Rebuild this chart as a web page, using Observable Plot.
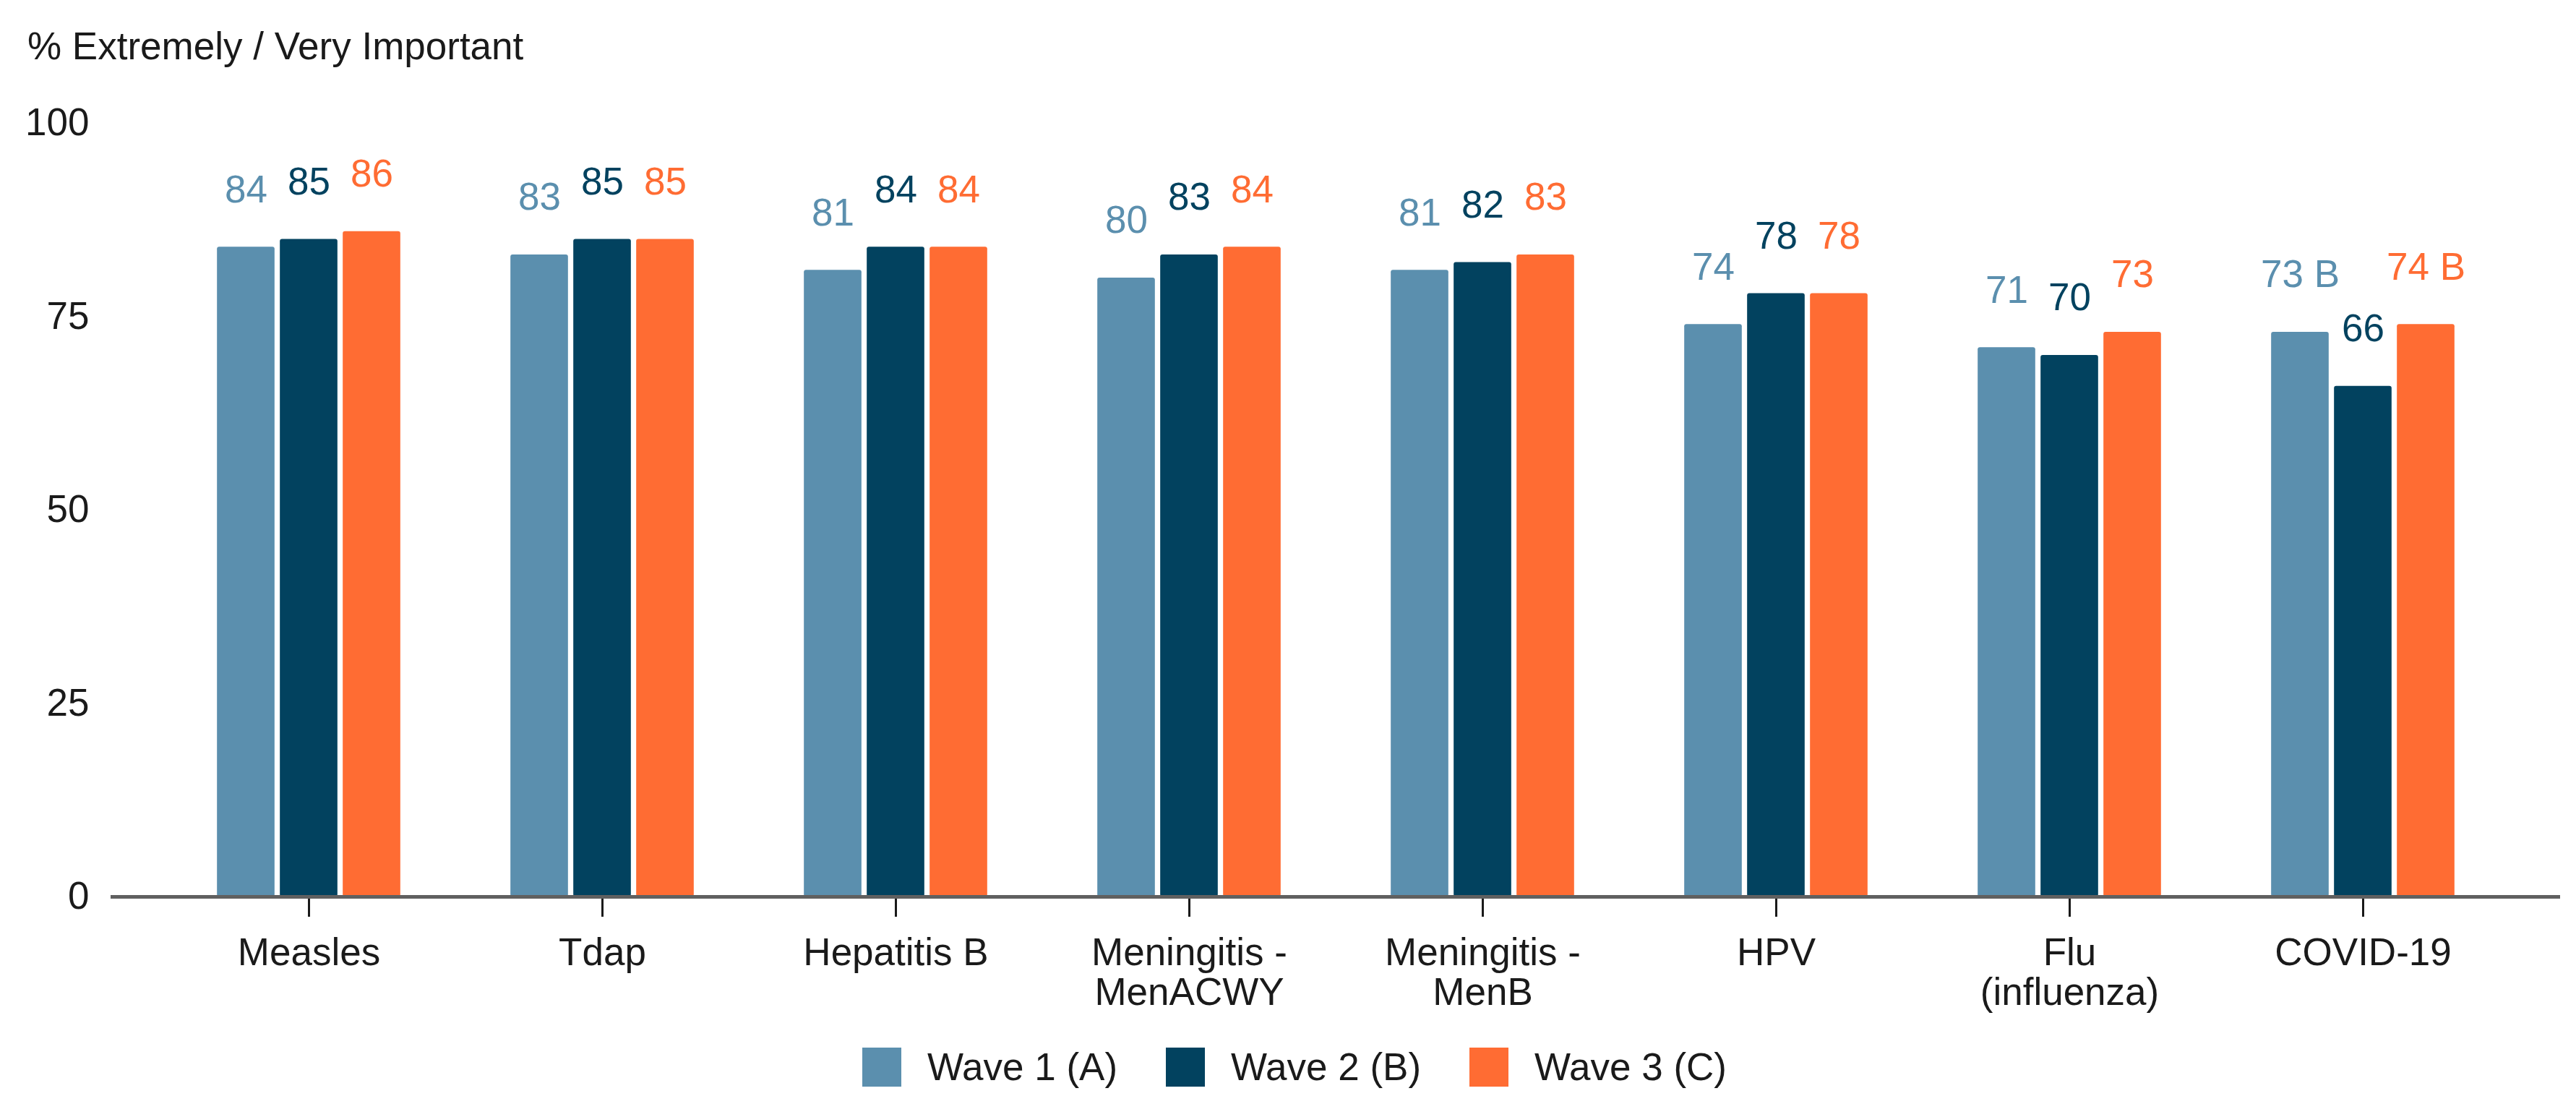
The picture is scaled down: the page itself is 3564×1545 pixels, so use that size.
<!DOCTYPE html>
<html>
<head>
<meta charset="utf-8">
<script src="https://cdn.jsdelivr.net/npm/d3@7"></script>
<script src="https://cdn.jsdelivr.net/npm/@observablehq/plot@0.6"></script>
<style>
  html, body { margin: 0; padding: 0; background: #fff; }
  body { width: 3564px; height: 1545px; overflow: hidden; position: relative;
         font-family: "Liberation Sans", Arial, Helvetica, sans-serif; color: #1a1a1a; }
  #title { position: absolute; left: 38px; top: 37px; font-size: 53px; line-height: 53px; white-space: nowrap; }
  #chart { position: absolute; left: 0; top: 110px; }
  #legend { position: absolute; left: 1193px; top: 1449px; height: 54px; display: flex; align-items: center; }
  .item { display: flex; align-items: center; width: 420px; font-size: 53px; line-height: 54px; white-space: nowrap; }
  .sw { width: 54px; height: 54px; margin-right: 36px; flex: none; }
</style>
</head>
<body>
<div id="title"></div>
<div id="chart"></div>
<div id="legend"></div>
<script>
// ---- data ----
const categories = ["Measles", "Tdap", "Hepatitis B", "Meningitis - MenACWY", "Meningitis - MenB", "HPV", "Flu (influenza)", "COVID-19"];
const tickLabels = ["Measles", "Tdap", "Hepatitis B", "Meningitis -\nMenACWY", "Meningitis -\nMenB", "HPV", "Flu\n(influenza)", "COVID-19"];
const waves = ["Wave 1 (A)", "Wave 2 (B)", "Wave 3 (C)"];
const wave1 = [84, 83, 81, 80, 81, 74, 71, 73];
const wave2 = [85, 85, 84, 83, 82, 78, 70, 66];
const wave3 = [86, 85, 84, 84, 83, 78, 73, 74];
const wave1Sig = ["", "", "", "", "", "", "", "B"];
const wave2Sig = ["", "", "", "", "", "", "", ""];
const wave3Sig = ["", "", "", "", "", "", "", "B"];
const yTicks = [0, 25, 50, 75, 100];
const titleText = "% Extremely / Very Important";
const colors = ["#5b8fae", "#02425f", "#ff6c33"];

// ---- build table ----
const series = [wave1, wave2, wave3];
const sigs = [wave1Sig, wave2Sig, wave3Sig];
const data = [];
waves.forEach((w, wi) => categories.forEach((c, ci) => {
  const v = series[wi][ci];
  data.push({category: c, wave: w, value: v, label: sigs[wi][ci] ? `${v} ${sigs[wi][ci]}` : `${v}`});
}));

// ---- layout ----
const width = 3564, height = 1310;
const marginLeft = 153, marginRight = 22, marginTop = 60, marginBottom = 180;
const paddingOuter = 0.17;
const bandwidth = (width - marginLeft - marginRight) / (categories.length + 2 * paddingOuter);
const barWidth = 80, barPitch = 87;
const inset = (bandwidth - barWidth) / 2;
const font = "'Liberation Sans', Arial, Helvetica, sans-serif";

const marks = [];
waves.forEach((w, wi) => {
  const rows = data.filter(d => d.wave === w);
  marks.push(Plot.barY(rows, {
    x: "category", y: "value", fill: colors[wi],
    insetLeft: inset, insetRight: inset, dx: (wi - 1) * barPitch, rx: 3
  }));
});
waves.forEach((w, wi) => {
  const rows = data.filter(d => d.wave === w);
  marks.push(Plot.text(rows, {
    x: "category", y: "value", text: "label", fill: colors[wi],
    dx: (wi - 1) * barPitch, dy: -79, fontSize: 53
  }));
});

const chart = Plot.plot({
  width, height, marginLeft, marginRight, marginTop, marginBottom,
  style: {fontSize: "53px", fontFamily: font, color: "#1a1a1a", background: "white"},
  x: {type: "band", domain: categories, paddingInner: 0, paddingOuter},
  y: {domain: [0, 100]},
  marks: [
    ...marks,
    Plot.axisY({ticks: yTicks, tickSize: 0, tickPadding: 30, label: null, fontSize: 53}),
    Plot.axisX({
      tickSize: 28, tickPadding: 27, label: null, fontSize: 53, lineHeight: 1.04,
      stroke: "#1a1a1a", strokeWidth: 3,
      tickFormat: d => tickLabels[categories.indexOf(d)]
    }),
    Plot.ruleY([0], {stroke: "#606060", strokeWidth: 5})
  ]
});
document.getElementById("chart").appendChild(chart);
document.getElementById("title").textContent = titleText;

const legend = document.getElementById("legend");
waves.forEach((w, wi) => {
  const item = document.createElement("div");
  item.className = "item";
  const sw = document.createElement("span");
  sw.className = "sw";
  sw.style.background = colors[wi];
  const t = document.createElement("span");
  t.textContent = w;
  item.appendChild(sw);
  item.appendChild(t);
  legend.appendChild(item);
});
</script>
</body>
</html>
